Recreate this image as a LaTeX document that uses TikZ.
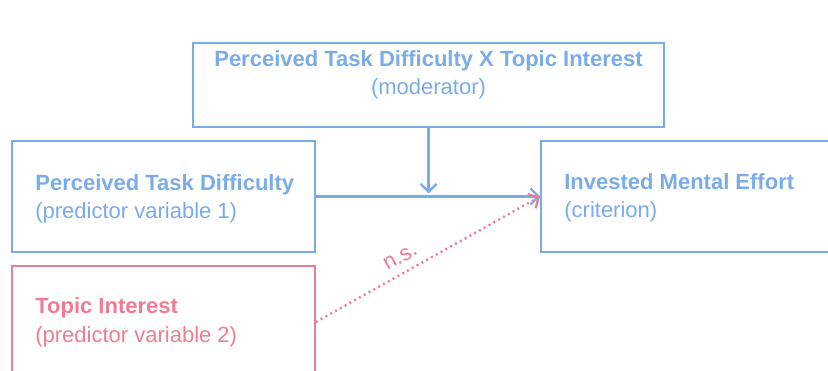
\documentclass[tikz,border=0pt]{standalone}
\usepackage{fontspec}
\setmainfont{Liberation Sans}
\usetikzlibrary{arrows.meta}
\definecolor{modblue}{RGB}{122,172,232}
\definecolor{modpink}{RGB}{238,124,150}

\begin{document}
\begin{tikzpicture}[x=1pt,y=-1pt,
  box/.style = {draw=#1, line width=1.7pt, inner sep=0pt},
  txt/.style = {text=#1, inner sep=0pt, align=left, font=\fontsize{22}{28.5}\selectfont},
  arr/.style = {draw=#1, line width=2.4pt, -{Straight Barb[length=8pt,width=16pt]}}]
\useasboundingbox (0,0) rectangle (828,371);
\clip (0,0) rectangle (828,371);
% boxes
\node (mod)  [box=modblue, minimum width=471pt, minimum height=84pt]  at (428.5,85)   {};
\node (ptd)  [box=modblue, minimum width=303pt, minimum height=111pt] at (163.5,196.5) {};
\node (ime)  [box=modblue, minimum width=300pt, minimum height=111pt] at (691,196.5)   {};
\node (ti)   [box=modpink, minimum width=303pt, minimum height=112pt] at (163.5,322)   {};
% texts
\node (modtxt) [txt=modblue, align=center] at ([yshift=10pt]mod.center) {\textbf{Perceived Task Difficulty X Topic Interest}\\(moderator)};
\node (ptdtxt) [txt=modblue, anchor=west] at ([xshift=24pt,yshift=-2.5pt]ptd.west) {\textbf{Perceived Task Difficulty}\\(predictor variable 1)};
\node (imetxt) [txt=modblue, anchor=west] at ([xshift=24pt,yshift=-1.5pt]ime.west) {\textbf{Invested Mental Effort}\\(criterion)};
\node (titxt)  [txt=modpink, anchor=west] at ([xshift=24pt,yshift=-0.5pt]ti.west)  {\textbf{Topic Interest}\\(predictor variable 2)};
% paths
\coordinate (join) at (mod.south |- ptd.east);
\draw [arr=modblue] (ptd.east) -- (ime.west);
\draw [arr=modblue, shorten >=3pt] (mod.south) -- (join);
\draw [arr=modpink, dash pattern=on 2pt off 3.5pt] (ti.east) -- (ime.west)
  node [sloped, above, pos=0.41, inner sep=8pt, text=modpink, font=\fontsize{22}{22}\selectfont] {n.s.};
\end{tikzpicture}
\end{document}
